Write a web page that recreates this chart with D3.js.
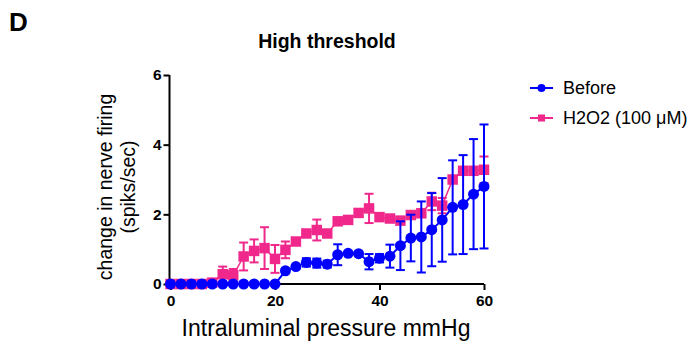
<!DOCTYPE html>
<html>
<head>
<meta charset="utf-8">
<script src="https://cdn.jsdelivr.net/npm/d3@7"></script>
<style>
  body { margin: 0; background: #fff; }
  text { font-family: "Liberation Sans", Arial, sans-serif; }
</style>
</head>
<body>
<svg id="chart" width="699" height="347"></svg>
<script>
// pressure steps (mmHg)
var pressure = d3.range(0, 61, 2);

// Before: mean and SEM
var beforeMean = [0,0,0,0,0,0,0,0,0,0,0, 0.38,0.5,0.62,0.6,0.57,0.84,0.88,0.87,0.64,0.74, 0.8,1.1,1.32,1.35,1.56,1.84,2.2,2.28,2.58,2.8];
var beforeErr  = [0,0,0,0,0,0,0,0,0,0,0, 0,0.05,0.12,0.13,0.1,0.3,0,0,0.22,0.12, 0.33,0.7,0.67,1.02,1.05,1.2,1.35,1.42,1.58,1.78];

// H2O2 (100 uM): mean and SEM
var h2o2Mean = [0,0,0,0,0.04,0.28,0.25,0.79,0.95,1.03,0.72, 0.98,1.22,1.45,1.55,1.45,1.8,1.84,2.04,2.17,1.92, 1.88,1.82,1.98,2.03,2.37,2.25,3.0,3.25,3.25,3.28];
var h2o2Err  = [0,0,0,0,0,0.22,0.18,0.4,0.33,0.6,0.4, 0.24,0,0.05,0.3,0,0,0,0,0.42,0, 0,0,0,0,0.25,0.22,0,0,0,0.38];

var xTicks = [0, 20, 40, 60];
var yTicks = [0, 2, 4, 6];

var blue = "#0000ff", pink = "#f0288c";

var svg = d3.select("#chart");
var x = d3.scaleLinear().domain([0, 60]).range([170.5, 484]);
var y = d3.scaleLinear().domain([0, 6]).range([284, 75]);

// panel letter and title
svg.append("text").attr("x", 9).attr("y", 31)
    .style("font-size", "26px").style("font-weight", "bold").text("D");
svg.append("text").attr("x", 327).attr("y", 48).attr("text-anchor", "middle")
    .style("font-size", "19.5px").style("font-weight", "bold").text("High threshold");

// axes
var xAxis = svg.append("g").attr("transform", "translate(0," + y(0) + ")")
    .call(d3.axisBottom(x).tickValues(xTicks).tickFormat(d3.format("d")).tickSize(6).tickPadding(3));
var yAxis = svg.append("g").attr("transform", "translate(" + (x(0) - 1) + ",0)")
    .call(d3.axisLeft(y).tickValues(yTicks).tickFormat(d3.format("d")).tickSize(6).tickPadding(2));
[xAxis, yAxis].forEach(function (g) {
    g.select(".domain").attr("stroke", "#000").attr("stroke-width", 2);
    g.selectAll(".tick line").attr("stroke", "#000").attr("stroke-width", 2);
    g.selectAll(".tick text").style("font-size", "15.5px").style("font-weight", "bold")
        .style("font-family", "'Liberation Sans', Arial, sans-serif").attr("fill", "#000");
});
xAxis.select(".domain").attr("d", "M" + (x(0) - 2) + ",0H" + x(60));
xAxis.selectAll(".tick text").attr("dy", "0.85em");
yAxis.select(".domain").attr("d", "M0," + y(6) + "V" + (y(0) + 1));

// axis titles
svg.append("text").attr("transform", "translate(112,187) rotate(-90)")
    .attr("text-anchor", "middle").style("font-size", "19.5px").text("change in nerve firing");
svg.append("text").attr("transform", "translate(135,187) rotate(-90)")
    .attr("text-anchor", "middle").style("font-size", "19.5px").text("(spiks/sec)");
svg.append("text").attr("x", 326).attr("y", 336).attr("text-anchor", "middle")
    .style("font-size", "23px").text("Intraluminal pressure mmHg");

function drawSeries(mean, err, color, shape, lw) {
    var pts = pressure.map(function (p, i) { return {p: p, m: mean[i], e: err[i]}; });
    var g = svg.append("g");
    g.append("path").datum(pts)
        .attr("fill", "none").attr("stroke", color).attr("stroke-width", lw)
        .attr("d", d3.line().x(function (d) { return x(d.p); }).y(function (d) { return y(d.m); }));
    var eb = g.selectAll(".eb").data(pts.filter(function (d) { return d.e > 0; })).enter().append("g")
        .attr("stroke", color).attr("stroke-width", 2);
    eb.append("line")
        .attr("x1", function (d) { return x(d.p); }).attr("x2", function (d) { return x(d.p); })
        .attr("y1", function (d) { return y(d.m + d.e); }).attr("y2", function (d) { return y(d.m - d.e); });
    eb.append("line")
        .attr("x1", function (d) { return x(d.p) - 4.5; }).attr("x2", function (d) { return x(d.p) + 4.5; })
        .attr("y1", function (d) { return y(d.m + d.e); }).attr("y2", function (d) { return y(d.m + d.e); });
    eb.append("line")
        .attr("x1", function (d) { return x(d.p) - 4.5; }).attr("x2", function (d) { return x(d.p) + 4.5; })
        .attr("y1", function (d) { return y(d.m - d.e); }).attr("y2", function (d) { return y(d.m - d.e); });
    g.selectAll(".mk").data(pts).enter().append("path")
        .attr("transform", function (d) { return "translate(" + x(d.p) + "," + y(d.m) + ")"; })
        .attr("d", d3.symbol().type(shape).size(shape === d3.symbolSquare ? 110 : 95))
        .attr("fill", color);
}

drawSeries(h2o2Mean, h2o2Err, pink, d3.symbolSquare, 1.5);
drawSeries(beforeMean, beforeErr, blue, d3.symbolCircle, 2);

// legend
var legend = [
    {label: "Before", color: blue, shape: d3.symbolCircle, y: 88},
    {label: "H2O2 (100 \u03bcM)", color: pink, shape: d3.symbolSquare, y: 118}
];
var lg = svg.selectAll(".lg").data(legend).enter().append("g")
    .attr("transform", function (d) { return "translate(0," + d.y + ")"; });
lg.append("line").attr("x1", 530).attr("x2", 553).attr("y1", 0).attr("y2", 0)
    .attr("stroke", function (d) { return d.color; }).attr("stroke-width", 2);
lg.append("path").attr("transform", "translate(541.5,0)")
    .attr("d", function (d) { return d3.symbol().type(d.shape).size(50)(); })
    .attr("fill", function (d) { return d.color; });
lg.append("text").attr("x", 563).attr("y", 6).style("font-size", "18px")
    .text(function (d) { return d.label; });
</script>
</body>
</html>
